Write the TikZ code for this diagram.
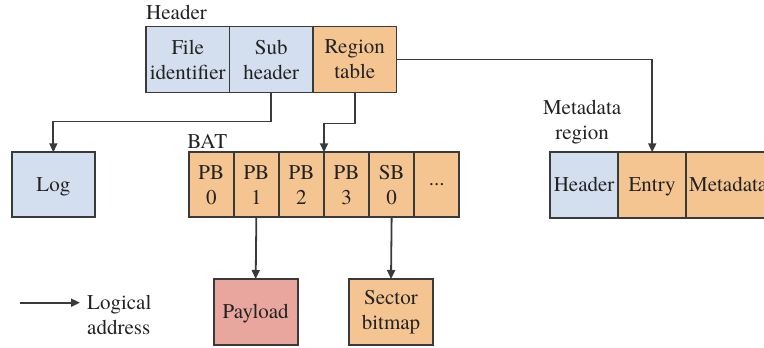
\documentclass[tikz,border=0pt]{standalone}
\usepackage{fontspec}
\setmainfont{TeX Gyre Termes}
\usepackage{tikz}
\usetikzlibrary{arrows.meta,positioning}
\usepackage{xcolor}
\definecolor{hdrblue}{HTML}{D3DFEE}
\definecolor{blockorange}{HTML}{F4C591}
\definecolor{payloadred}{HTML}{E8A69E}
\definecolor{edge}{HTML}{3A3A3A}
\definecolor{ink}{HTML}{222222}

\begin{document}
\begin{tikzpicture}[x=1pt, y=-1pt,
  every node/.style={font=\rmfamily\fontsize{21}{25}\selectfont, text=ink},
  cell/.style={draw=edge, line width=1.8pt, minimum height=66pt, inner sep=1pt,
               outer sep=0pt, align=center, anchor=north west},
  blue/.style={cell, fill=hdrblue},
  orange/.style={cell, fill=blockorange},
  oneline/.style={text height=14pt, text depth=0.5pt},
  lbl/.style={inner sep=0pt, align=center},
  arr/.style={-{Triangle[length=9pt, width=8pt]}, line width=1.8pt, draw=edge}
]
  \clip (0,0) rectangle (764,348);

  % header
  \node[blue, minimum width=83.5pt] (fileid) at (146,26.5) {File\\identifier};
  \node[blue, minimum width=83.5pt, right=0pt of fileid] (subhdr) {Sub\\header};
  \node[orange, minimum width=83.5pt, right=0pt of subhdr] (regtab) {Region\\table};
  \node[lbl, anchor=base west] (hdrlbl) at ([yshift=7.2pt]fileid.north west) {Header};

  \node[blue, oneline, minimum width=83.3pt, minimum height=65pt] (log) at (11.7,152.3) {Log};

  % block allocation table
  \node[orange, minimum width=45.1pt, minimum height=65pt] (pb0) at (188.7,152.3) {PB\\0};
  \node[orange, minimum width=45.1pt, minimum height=65pt, right=0pt of pb0] (pb1) {PB\\1};
  \node[orange, minimum width=45.1pt, minimum height=65pt, right=0pt of pb1] (pb2) {PB\\2};
  \node[orange, minimum width=45.1pt, minimum height=65pt, right=0pt of pb2] (pb3) {PB\\3};
  \node[orange, minimum width=45.1pt, minimum height=65pt, right=0pt of pb3] (sb0) {SB\\0};
  \node[orange, minimum width=45.1pt, minimum height=65pt, right=0pt of sb0] (more) {...};
  \node[lbl, anchor=base west] (batlbl) at ([yshift=4pt,xshift=-1.5pt]pb0.north west) {BAT};

  % metadata region
  \node[blue, oneline, minimum width=68.2pt, minimum height=65.5pt] (mhdr) at (550,152.3) {Header};
  \node[orange, oneline, minimum width=68pt, minimum height=65.5pt, right=0pt of mhdr] (mentry) {Entry};
  \node[orange, oneline, minimum width=84pt, minimum height=65.5pt, right=0pt of mentry] (mdata) {Metadata};
  \node[lbl, anchor=south] (mlbl) at ([yshift=7.6pt,xshift=-2pt]mhdr.north) {Metadata\\region};

  \node[cell, oneline, fill=payloadred, minimum width=84pt] (payload) at (213.7,279) {Payload};
  \node[orange, minimum width=84pt] (bitmap) at (349,279) {Sector\\bitmap};

  % legend
  \coordinate (legs) at (20,302.7);
  \coordinate (lege) at (80,302.7);
  \node[lbl, align=left, anchor=west] (legtxt) at (87,315) {Logical\\address};

  \draw[arr] (subhdr.south) -- ++(0,29) -| (log.north);
  \draw[arr] (regtab.south) -- ++(0,31) -| (pb3.north west);
  \draw[arr] (regtab.east) -| (mentry.north);
  \draw[arr] (pb1.south) -- (payload.north);
  \draw[arr] (sb0.south) -- (bitmap.north);
  \draw[arr] (legs) -- (lege);

\end{tikzpicture}
\end{document}
